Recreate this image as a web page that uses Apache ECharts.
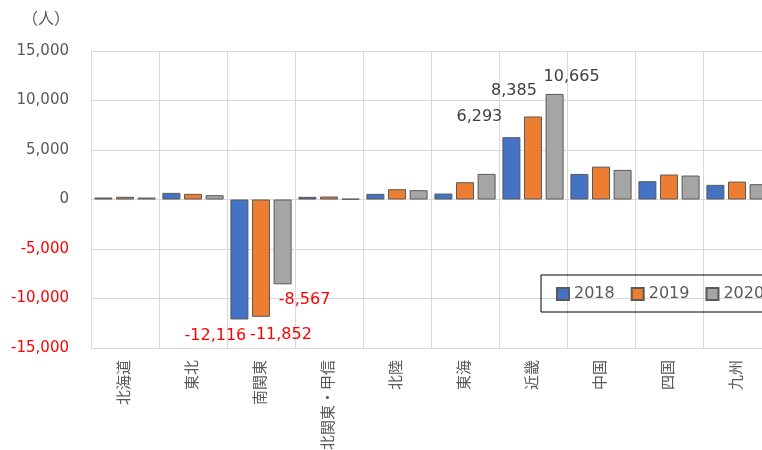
<!DOCTYPE html>
<html>
<head>
    <meta charset="UTF-8" />
    <title>region chart</title>
    <script src="https://cdn.jsdelivr.net/npm/echarts@6/dist/echarts.min.js"></script>
    <style>
        html, body { margin: 0; padding: 0; background: #fff; }
        #A { width: 762px; height: 450px; }
    </style>
</head>
<body>
    <div id="A"></div>
    <script>
        // categories and values
        var regions = ['北海道', '東北', '南関東', '北関東・甲信', '北陸', '東海', '近畿', '中国', '四国', '九州'];
        var years = ['2018', '2019', '2020'];
        var v2018 = [200, 670, -12116, 270, 570, 600, 6293, 2585, 1850, 1480];
        var v2019 = [270, 570, -11852, 300, 1040, 1745, 8385, 3320, 2520, 1810];
        var v2020 = [200, 435, -8567, 70, 940, 2585, 10665, 2990, 2420, 1545];
        var yTicks = [-15000, -10000, -5000, 0, 5000, 10000, 15000];

        var colors = ['#4472C4', '#ED7D31', '#A5A5A5'];
        var FONT = "'DejaVu Sans', 'Noto Sans CJK JP', sans-serif";

        // labels only on 近畿 (above) and 南関東 (below)
        var labelOffsets = {
            6: [[-32, -7], [-19, -13], [17, -4]],
            2: [[-24, 3], [20, 5], [22, 3]]
        };

        function fmt(n) {
            return n.toLocaleString('en-US');
        }

        function buildData(vals, s) {
            return vals.map(function (v, i) {
                var off = labelOffsets[i];
                if (!off) return v;
                return {
                    value: v,
                    label: {
                        show: true,
                        position: v < 0 ? 'bottom' : 'top',
                        offset: off[s],
                        color: v < 0 ? '#FF0000' : '#404040',
                        fontSize: 16,
                        fontFamily: FONT,
                        formatter: function (p) { return fmt(p.value); }
                    }
                };
            });
        }

        var allVals = [v2018, v2019, v2020];
        var series = years.map(function (y, s) {
            return {
                name: y,
                type: 'bar',
                data: buildData(allVals[s], s),
                barWidth: 18,
                barGap: '20%',
                itemStyle: { color: colors[s], borderColor: '#595959', borderWidth: 1 }
            };
        });

        var myChart = echarts.init(document.getElementById('A'));
        var option = {
            animation: false,
            textStyle: { fontFamily: FONT },
            // plot area runs past the right edge, as in the original
            grid: { left: 91, top: 51, width: 680, height: 297, containLabel: false, outerBoundsMode: 'none' },
            legend: {
                data: years,
                left: 541,
                top: 275,
                width: 260,
                orient: 'horizontal',
                icon: 'rect',
                padding: [11, 14, 10, 15],
                itemWidth: 12,
                itemHeight: 12,
                itemGap: 16,
                borderColor: '#000',
                borderWidth: 1,
                textStyle: { fontSize: 16, color: '#595959', fontFamily: FONT }
            },
            graphic: [{
                type: 'text',
                left: 22,
                top: 10,
                style: { text: '（人）', fontSize: 16, fill: '#595959', fontFamily: "'Noto Sans CJK JP', sans-serif" }
            }],
            xAxis: {
                type: 'category',
                data: regions,
                axisLine: { show: false, onZero: false },
                axisTick: { show: false },
                splitLine: { show: true, lineStyle: { color: '#D9D9D9', width: 1 } },
                axisLabel: {
                    rotate: 90,
                    fontSize: 15,
                    color: '#595959',
                    margin: 12,
                    fontFamily: FONT
                }
            },
            yAxis: {
                type: 'value',
                min: yTicks[0],
                max: yTicks[yTicks.length - 1],
                interval: 5000,
                axisLine: { show: true, lineStyle: { color: '#D9D9D9' } },
                axisTick: { show: false },
                splitLine: { lineStyle: { color: '#D9D9D9', width: 1 } },
                axisLabel: {
                    margin: 22,
                    fontSize: 15,
                    fontFamily: FONT,
                    color: function (v) { return v < 0 ? '#FF0000' : '#595959'; },
                    formatter: function (v) { return fmt(v); }
                }
            },
            series: series
        };
        myChart.setOption(option);
    </script>
</body>
</html>
